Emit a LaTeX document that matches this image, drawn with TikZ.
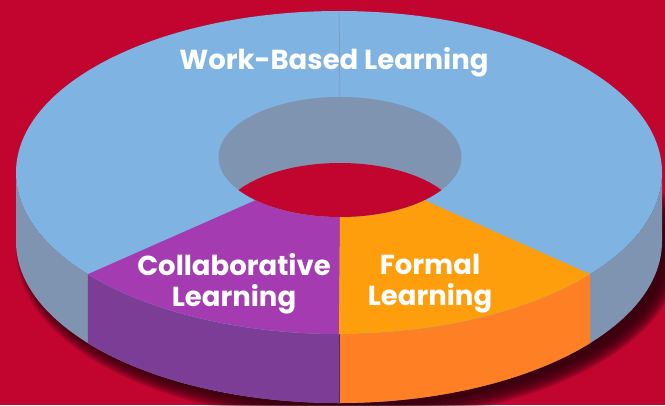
\documentclass[tikz,border=0pt]{standalone}
\usepackage{fontspec}
\setmainfont{Poppins}
\usetikzlibrary{calc}
\definecolor{crimson}{HTML}{C1052F}
\definecolor{topblue}{HTML}{7EB3E2}
\definecolor{sidegray}{HTML}{7F94B0}
\definecolor{toppurple}{HTML}{A43BB0}
\definecolor{sidepurple}{HTML}{7B3D96}
\definecolor{toporange}{HTML}{FF9E0D}
\definecolor{sideorange}{HTML}{FF7F24}
\definecolor{shadowc}{HTML}{2A000C}
\tikzset{
	lbl/.style={text=white, font=\bfseries\fontsize{27.5}{31}\selectfont, align=center, inner sep=1pt},
	outer/.style={x radius=323, y radius=161.5},
	inner/.style={x radius=121.5, y radius=60}
}

\begin{document}
\begin{tikzpicture}[x=1pt,y=1pt]
	\fill[crimson] (0,0) rectangle (665,-405);
	\useasboundingbox (0,0) rectangle (665,-405);
	\coordinate (otop) at (339,-172.5);
	\coordinate (obot) at (339,-241.5);
	\coordinate (itop) at (340,-157);

	% shadow
	\foreach \i in {0,...,11}
		\fill[shadowc, opacity=0.15] ($(obot)+(10,-9)$) ellipse[x radius=333-1.4*\i, y radius=171-1.4*\i];

	% side wall
	\fill[sidegray] ($(otop)+(-323,0)$) -- ($(obot)+(-323,0)$) arc[start angle=180, end angle=360, outer] -- ($(otop)+(323,0)$) arc[start angle=0, end angle=-180, outer] -- cycle;
	\fill[sidepurple] ($(otop)+(219:323 and 161.5)$) arc[start angle=219, end angle=270, outer] -- ++(0,-69) arc[start angle=270, end angle=219, outer] -- cycle;
	\fill[sideorange] ($(otop)+(270:323 and 161.5)$) arc[start angle=270, end angle=321, outer] -- ++(0,-69) arc[start angle=321, end angle=270, outer] -- cycle;
	\draw[sidepurple!70!black, line width=0.4pt] ($(otop)+(0,-161.5)$) -- ($(obot)+(0,-161.5)$);

	% top face
	\fill[topblue] (otop) ellipse[outer];
	\fill[toppurple] ($(otop)+(219:323 and 161.5)$) arc[start angle=219, end angle=270, outer] -- ($(itop)+(270:121.5 and 60)$) arc[start angle=270, end angle=226, inner] -- cycle;
	\fill[toporange] ($(otop)+(270:323 and 161.5)$) arc[start angle=270, end angle=321, outer] -- ($(itop)+(314:121.5 and 60)$) arc[start angle=314, end angle=270, inner] -- cycle;
	\draw[sidegray, line width=0.5pt] ($(otop)+(0,161.5)$) -- ($(itop)+(0,60)$);

	% hole
	\fill[sidegray] (itop) ellipse[inner];
	\begin{scope}
		\clip (itop) ellipse[inner];
		\fill[crimson] ($(itop)+(0,-66)$) ellipse[inner];
	\end{scope}

	% labels
	\node[lbl] (wbl) at (334,-62) {Work-Based Learning};
	\node[lbl] (collab) at (234,-284) {Collaborative\\Learning};
	\node[lbl] (formal) at (430,-284) {Formal\\Learning};
\end{tikzpicture}
\end{document}
